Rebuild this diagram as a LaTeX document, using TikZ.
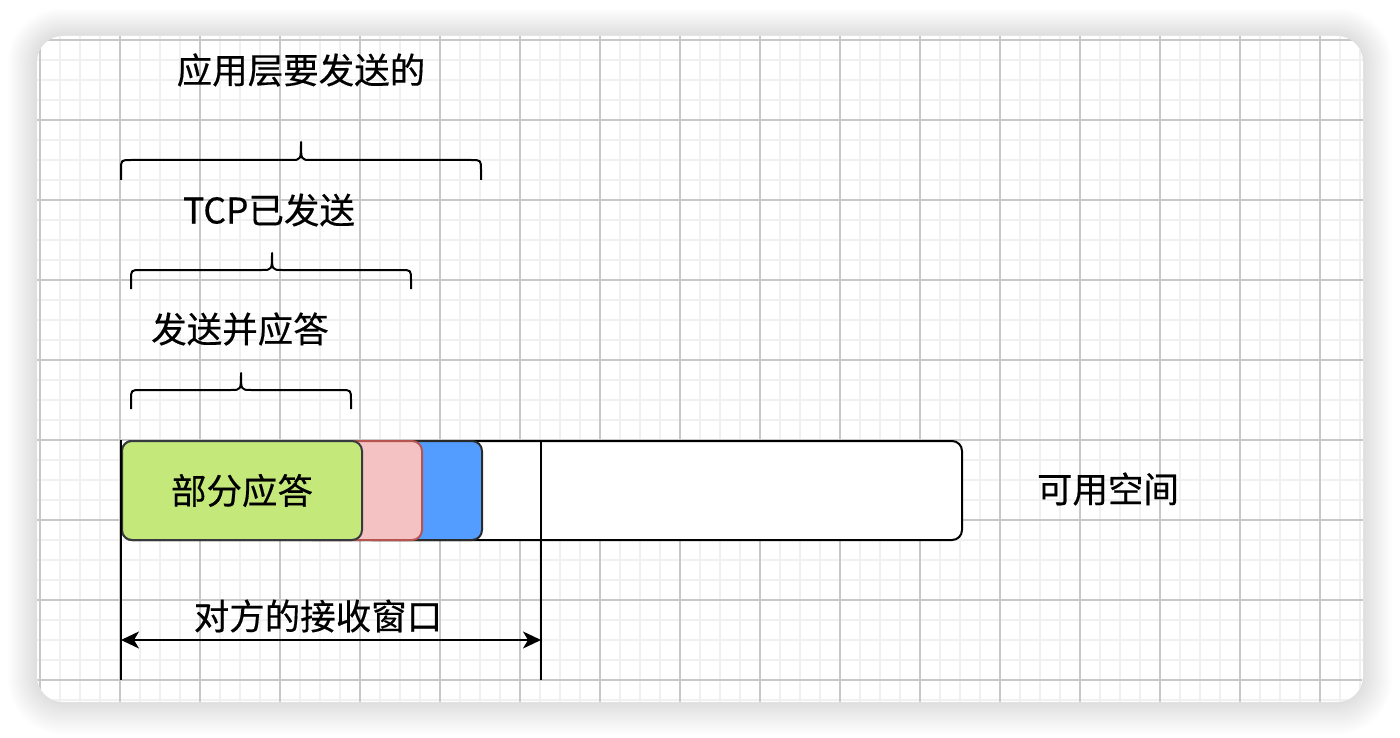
\documentclass[tikz,border=0pt]{standalone}
\usepackage{fontspec}
\setmainfont[FakeBold=0.4]{Noto Sans CJK SC}
\usetikzlibrary{arrows.meta}
\definecolor{gminor}{HTML}{F0F0F0}
\definecolor{gmajor}{HTML}{C8C8C8}
\definecolor{greenfill}{HTML}{C5E87A}
\definecolor{greenline}{HTML}{36393D}
\definecolor{pinkfill}{HTML}{F4C2C2}
\definecolor{pinkline}{HTML}{B85450}
\definecolor{bluefill}{HTML}{529DFF}
\definecolor{blueline}{HTML}{2A2A2A}
\tikzset{
  lbl/.style={font=\fontsize{35.5}{42}\selectfont, inner sep=0pt, anchor=center},
  seg/.style={draw, line width=2pt, rounded corners=10pt, anchor=north west, inner sep=0pt},
  brace/.style={draw, line width=2pt, line join=round},
  rule/.style={draw, line width=2pt},
}
\begin{document}
\begin{tikzpicture}[x=1pt,y=-1pt]
\useasboundingbox (0,0) rectangle (1400,738);
\fill[white] (0,0) rectangle (1400,738);
% soft shadow
\foreach \i in {1,...,16}{
  \fill[black, opacity=0.007, rounded corners={(28+\i*1.6)*1pt}] (37-\i*1.8,36-\i*1.7) rectangle (1363+\i*1.8,702+\i*2.0);
}
% card
\fill[white, rounded corners=26pt] (37,36) rectangle (1363,702);
\begin{scope}
\clip[rounded corners=26pt] (37,36) rectangle (1363,702);
\foreach \x in {40,60,...,1360}{ \draw[gminor, line width=2pt] (\x,36) -- (\x,702); }
\foreach \y in {40,60,...,700}{ \draw[gminor, line width=2pt] (37,\y) -- (1363,\y); }
\foreach \x in {40,120,...,1360}{ \draw[gmajor, line width=1.2pt] (\x,36) -- (\x,702); }
\foreach \y in {40,120,...,700}{ \draw[gmajor, line width=1.2pt] (37,\y) -- (1363,\y); }
\end{scope}

% texts
\node[lbl] (app) at (301,70) {应用层要发送的};
\node[lbl] (tcp) at (269,210) {TCP已发送};
\node[lbl] (ack) at (240,329) {发送并应答};

% braces
\draw[brace] (121,180) -- (121,170) .. controls (121,160) .. (131,160) -- (291,160) .. controls (301,160) .. (301,142)
  .. controls (301,160) .. (311,160) -- (471,160) .. controls (481,160) .. (481,170) -- (481,180);
\draw[brace] (131,289) -- (131,280) .. controls (131,270) .. (141,270) -- (262,270) .. controls (272,270) .. (272,253)
  .. controls (272,270) .. (282,270) -- (401,270) .. controls (411,270) .. (411,280) -- (411,289);
\draw[brace] (131,409) -- (131,400) .. controls (131,390) .. (141,390) -- (231,390) .. controls (241,390) .. (241,373)
  .. controls (241,390) .. (251,390) -- (341,390) .. controls (351,390) .. (351,400) -- (351,409);

% bar
\node[seg, fill=white, minimum width=840pt, minimum height=99pt] (bar) at (121,440) {};
\node[seg, fill=bluefill, draw=blueline, minimum width=120pt, minimum height=99pt] (blue) at (361,440) {};
\node[seg, fill=pinkfill, draw=pinkline, minimum width=120pt, minimum height=99pt] (pink) at (301,440) {};
\node[seg, fill=greenfill, draw=greenline, minimum width=240pt, minimum height=99pt] (green) at (121,440) {};
\node[lbl] (greenlbl) at (green.center) {部分应答};
\node[lbl] (free) at (1108,489) {可用空间};

% window
\coordinate (v1t) at (121,440);
\coordinate (v1b) at (121,680);
\coordinate (v2t) at (541,440);
\coordinate (v2b) at (541,680);
\draw[rule] (v1t) -- (v1b);
\draw[rule] (v2t) -- (v2b);
\coordinate (wl) at (121,640);
\coordinate (wr) at (541,640);
\draw[line width=2pt, {Stealth[length=18pt,width=17pt,inset=5pt]}-{Stealth[length=18pt,width=17pt,inset=5pt]}] (wl) -- (wr);
\node[lbl] (win) at (318,616) {对方的接收窗口};
\end{tikzpicture}
\end{document}
